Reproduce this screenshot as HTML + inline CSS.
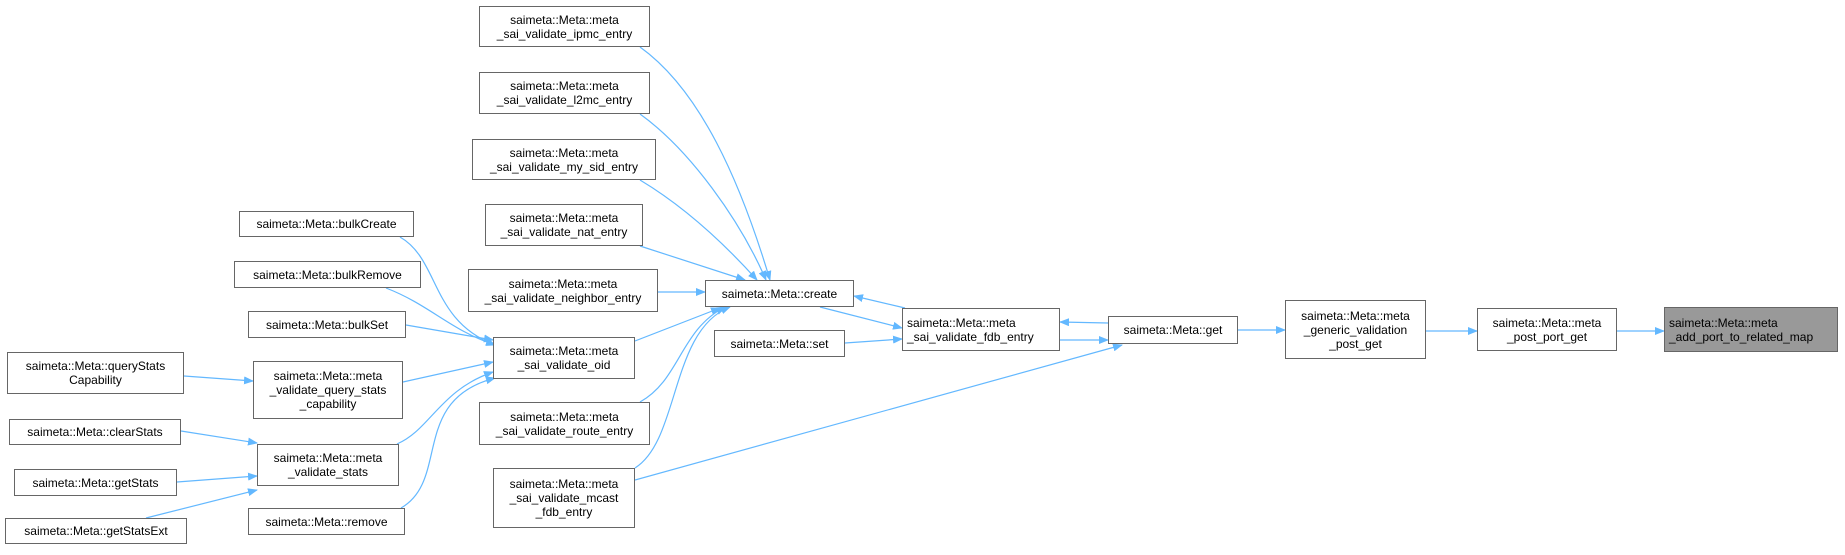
<!DOCTYPE html>
<html><head><meta charset="utf-8"><style>
body{margin:0;background:#fff;width:1845px;height:555px;overflow:hidden;position:relative;font-family:"Liberation Sans",sans-serif;}
.n{position:absolute;box-sizing:border-box;border:1px solid #666;background:#fff;font-size:12px;line-height:14px;color:#000;display:flex;align-items:center;justify-content:center;text-align:center;white-space:nowrap;padding:0 4px;}
.n.l{justify-content:flex-start;text-align:left;}
svg{position:absolute;left:0;top:0;}
</style></head><body>
<svg width="1845" height="555" viewBox="0 0 1845 555">
<defs><marker id="a" markerWidth="10" markerHeight="8" refX="9" refY="4" orient="auto" markerUnits="userSpaceOnUse"><path d="M0,0 L10,4 L0,8 z" fill="#63b8ff"/></marker></defs>
<g fill="none" stroke="#63b8ff" stroke-width="1.2" marker-end="url(#a)">
<path d="M1617,331 L1664,331"/>
<path d="M1426,331 L1477,331"/>
<path d="M1238,330 L1285,330"/>
<path d="M1108,323 L1060,322"/>
<path d="M1060,340 L1108,340"/>
<path d="M635,480 L1122,345"/>
<path d="M905,308 L854,296"/>
<path d="M820,307 L902,328"/>
<path d="M845,343 L902,339"/>
<path d="M640,47 C700,90 740,180 770,280"/>
<path d="M640,114 C690,150 740,220 766,280"/>
<path d="M640,180 C690,210 730,250 757,280"/>
<path d="M640,246 L745,280"/>
<path d="M658,292 L705,292"/>
<path d="M635,341 L720,308"/>
<path d="M640,402 C680,380 680,330 725,307"/>
<path d="M635,468 C680,440 670,330 730,307"/>
<path d="M400,237 C440,260 430,320 495,345"/>
<path d="M386,288 C430,305 450,330 495,345"/>
<path d="M406,325 L493,340"/>
<path d="M403,382 L493,362"/>
<path d="M397,444 C430,430 440,390 493,372"/>
<path d="M401,508 C450,480 410,400 495,378"/>
<path d="M184,376 L253,381"/>
<path d="M181,431 L257,443"/>
<path d="M177,482 L257,476"/>
<path d="M146,518 L257,490"/>
</g></svg>
<div class="n" style="left:479px;top:6px;width:171px;height:41px">saimeta::Meta::meta<br>_sai_validate_ipmc_entry</div>
<div class="n" style="left:479px;top:72px;width:171px;height:42px">saimeta::Meta::meta<br>_sai_validate_l2mc_entry</div>
<div class="n" style="left:472px;top:139px;width:184px;height:41px">saimeta::Meta::meta<br>_sai_validate_my_sid_entry</div>
<div class="n" style="left:485px;top:204px;width:158px;height:42px">saimeta::Meta::meta<br>_sai_validate_nat_entry</div>
<div class="n" style="left:468px;top:269px;width:190px;height:43px">saimeta::Meta::meta<br>_sai_validate_neighbor_entry</div>
<div class="n" style="left:239px;top:211px;width:175px;height:26px">saimeta::Meta::bulkCreate</div>
<div class="n" style="left:234px;top:261px;width:187px;height:27px">saimeta::Meta::bulkRemove</div>
<div class="n" style="left:248px;top:311px;width:158px;height:27px">saimeta::Meta::bulkSet</div>
<div class="n" style="left:493px;top:337px;width:142px;height:42px">saimeta::Meta::meta<br>_sai_validate_oid</div>
<div class="n" style="left:7px;top:352px;width:177px;height:42px">saimeta::Meta::queryStats<br>Capability</div>
<div class="n" style="left:253px;top:361px;width:150px;height:58px">saimeta::Meta::meta<br>_validate_query_stats<br>_capability</div>
<div class="n" style="left:9px;top:419px;width:172px;height:26px">saimeta::Meta::clearStats</div>
<div class="n" style="left:257px;top:444px;width:142px;height:42px">saimeta::Meta::meta<br>_validate_stats</div>
<div class="n" style="left:14px;top:469px;width:163px;height:27px">saimeta::Meta::getStats</div>
<div class="n" style="left:5px;top:518px;width:182px;height:26px">saimeta::Meta::getStatsExt</div>
<div class="n" style="left:248px;top:508px;width:157px;height:27px">saimeta::Meta::remove</div>
<div class="n" style="left:479px;top:402px;width:171px;height:43px">saimeta::Meta::meta<br>_sai_validate_route_entry</div>
<div class="n" style="left:493px;top:468px;width:142px;height:60px">saimeta::Meta::meta<br>_sai_validate_mcast<br>_fdb_entry</div>
<div class="n" style="left:705px;top:280px;width:149px;height:27px">saimeta::Meta::create</div>
<div class="n" style="left:714px;top:330px;width:131px;height:27px">saimeta::Meta::set</div>
<div class="n l" style="left:902px;top:308px;width:158px;height:43px">saimeta::Meta::meta<br>_sai_validate_fdb_entry</div>
<div class="n" style="left:1108px;top:316px;width:130px;height:28px">saimeta::Meta::get</div>
<div class="n" style="left:1285px;top:300px;width:141px;height:59px">saimeta::Meta::meta<br>_generic_validation<br>_post_get</div>
<div class="n" style="left:1477px;top:308px;width:140px;height:43px">saimeta::Meta::meta<br>_post_port_get</div>
<div class="n l" style="left:1664px;top:307px;width:174px;height:45px;background:#999">saimeta::Meta::meta<br>_add_port_to_related_map</div>
</body></html>
